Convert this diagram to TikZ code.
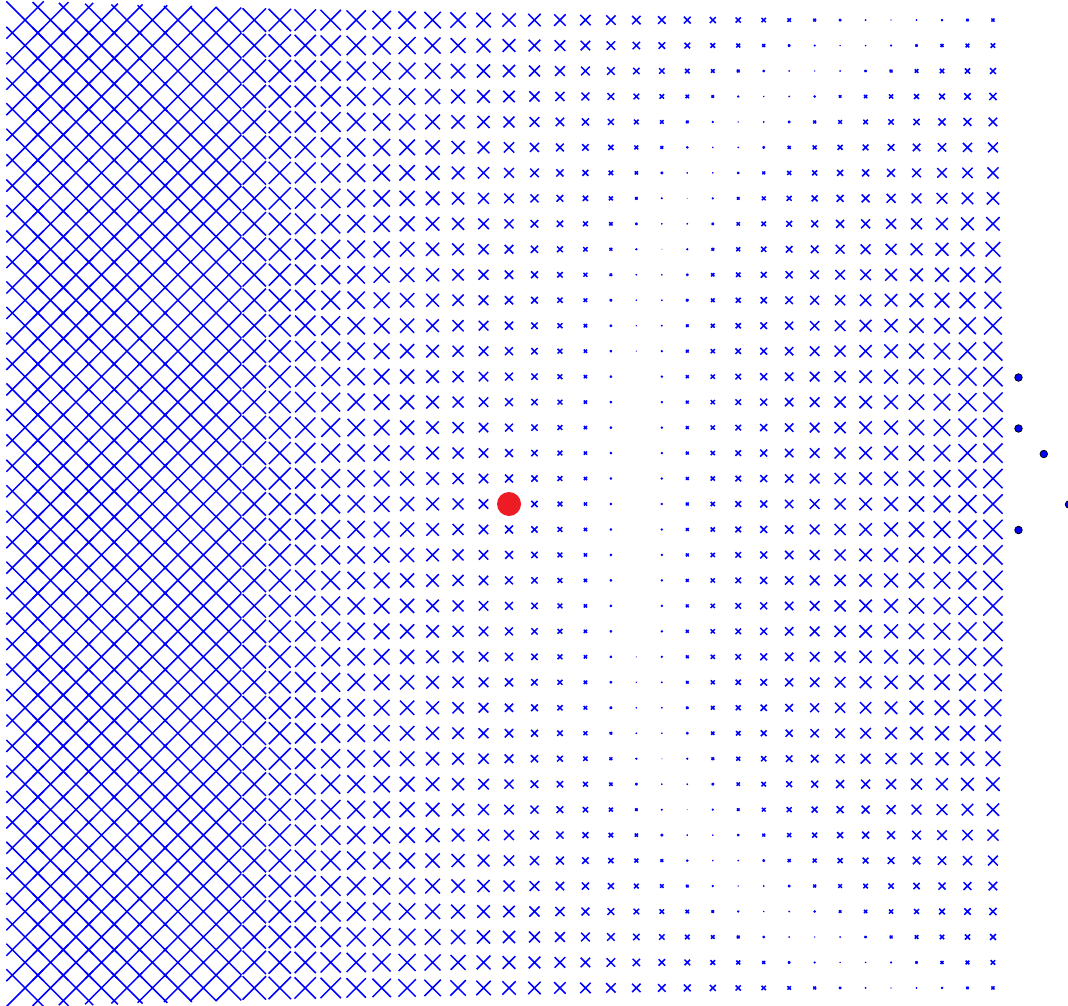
\documentclass[tikz,border=0pt]{standalone}
\definecolor{crossblue}{RGB}{0,0,255}
\definecolor{chargered}{RGB}{237,28,36}
\begin{document}
\begin{tikzpicture}[x=1pt,y=-1pt,
  fieldcross/.style={draw=crossblue,line width=1.5pt},
  chargedot/.style={circle,fill=chargered,minimum size=24pt,inner sep=0pt},
  pathdot/.style={circle,fill=crossblue,draw=black,line width=0.8pt,minimum size=7.5pt,inner sep=0pt}]
\useasboundingbox (0,0) rectangle (1068,1006);
\clip (0,0) rectangle (1068,1006);
\foreach \k in {-19,...,19}{
  \foreach \j in {-19,...,19}{
    \pgfmathsetmacro\aj{abs(\j)}
    \pgfmathsetmacro\q{(\k<=11)*1.8+(\k>11)*(1.8-0.6*(\k-11)/8)}
    \pgfmathsetmacro\Y{(\aj>5)*pow(max(\aj-5,0.01)/14,\q)}
    \pgfmathsetmacro\s{(\k<5)*0.78+(\k>=5)*0.69}
    \pgfmathsetmacro\h{abs(\s*(5-\k)+0.28*max(0,\k+10)*\Y)}
    \pgfmathsetmacro\cx{509+25.47*\k}
    \pgfmathsetmacro\cy{504+25.47*\j}
    \draw[fieldcross] ({\cx-\h},{\cy-\h}) -- ({\cx+\h},{\cy+\h}) ({\cx-\h},{\cy+\h}) -- ({\cx+\h},{\cy-\h});
  }
}
\node[chargedot] (q) at (509,504) {};
\node[pathdot] (p1) at (1018.5,377.5) {};
\node[pathdot] (p2) at (1018.5,428.5) {};
\node[pathdot] (p3) at (1043.8,454) {};
\node[pathdot] (p4) at (1069,504.5) {};
\node[pathdot] (p5) at (1018.5,530) {};
\end{tikzpicture}
\end{document}
